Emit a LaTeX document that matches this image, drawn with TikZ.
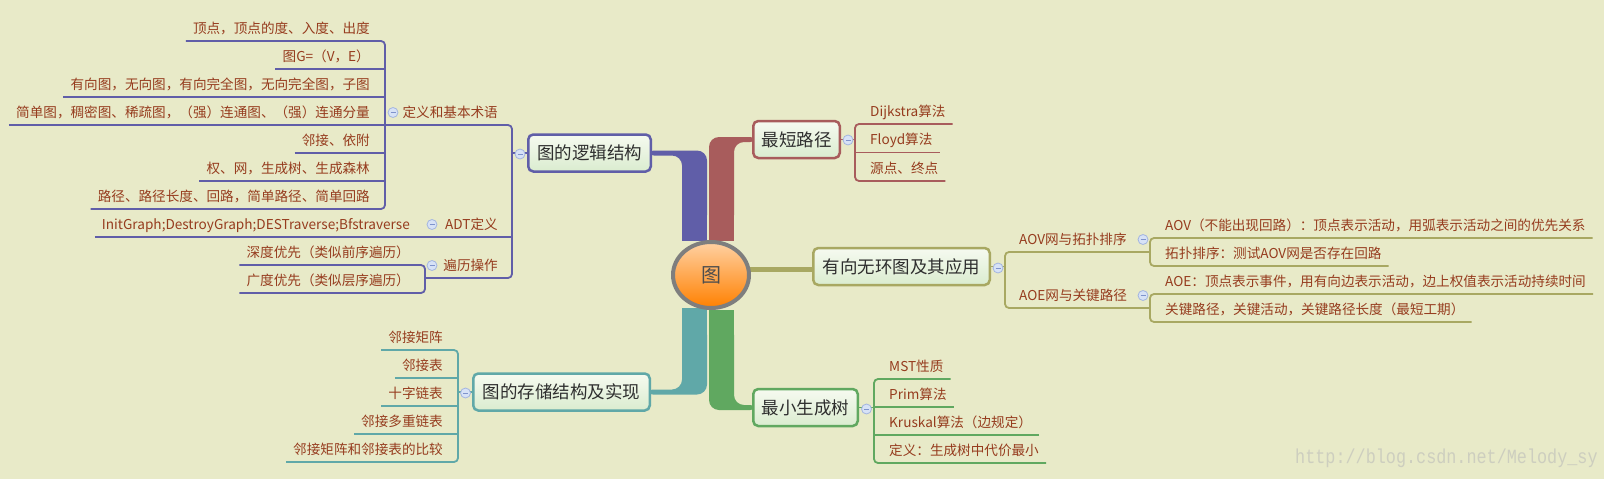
\documentclass[tikz,border=0pt]{standalone}
\usepackage{graphicx}
\usepackage{fontspec}
\setmainfont{Noto Sans CJK SC}
\newfontfamily\markfont{Liberation Mono}
\usetikzlibrary{calc,shapes.geometric}
\pgfdeclarelayer{under}
\pgfsetlayers{under,main}
\definecolor{bg}{HTML}{E8EAC8}
\definecolor{cP}{HTML}{605EA8}
\definecolor{cR}{HTML}{A85C5C}
\definecolor{cO}{HTML}{A8A862}
\definecolor{cT}{HTML}{60A8A8}
\definecolor{cG}{HTML}{60A860}
\definecolor{cTxt}{HTML}{963C1E}
\definecolor{cMain}{HTML}{2E2E2E}
\definecolor{cBoxTop}{HTML}{F6FAF0}
\definecolor{cBoxBot}{HTML}{DAECCF}
\definecolor{cBtnFill}{HTML}{D7E2F6}
\definecolor{cBtnDraw}{HTML}{A3B5E0}
\definecolor{cBtnMinus}{HTML}{7F93CC}
\definecolor{cRootTop}{HTML}{FFD1A3}
\definecolor{cRootBot}{HTML}{FF8000}
\definecolor{cRootRim}{HTML}{7E7E7E}
\definecolor{cMark}{HTML}{CDCEBF}
\begin{document}
\begin{tikzpicture}[x=1pt,y=-1pt,
 leafL/.style={anchor=south east, font=\fontsize{13.6}{16}\selectfont, text=cTxt, inner xsep=7pt, inner ysep=0pt, text height=10pt, text depth=7.5pt},
 leafR/.style={leafL, anchor=south west},
 mainbox/.style={draw=#1, line width=2.5pt, rounded corners=5pt, top color=cBoxTop, bottom color=cBoxBot, font=\fontsize{17.5}{20}\selectfont, text=cMain, inner sep=0pt, minimum height=37pt},
 btn/.style={circle, draw=cBtnDraw, fill=cBtnFill, line width=0.8pt, minimum size=10pt, inner sep=0pt, path picture={\draw[cBtnMinus, line width=1pt] ([xshift=-2.5pt]path picture bounding box.center) -- ([xshift=2.5pt]path picture bounding box.center);}},
 conn/.style={draw=#1, line width=1.8pt, rounded corners=4pt},
]
\useasboundingbox (0,0) rectangle (1604,479);

% root and main topics
\node[ellipse, draw=cRootRim, line width=4pt, top color=cRootTop, bottom color=cRootBot, minimum width=76pt, minimum height=66pt, inner sep=0pt, font=\fontsize{20}{22}\selectfont, text=cMain!85] (root) at (711,275) {图};
\node[mainbox=cP, minimum width=122.5pt] (L1) at (589.5,153) {图的逻辑结构};
\node[mainbox=cR, minimum width=86.5pt] (L2) at (796.5,139.5) {最短路径};
\node[mainbox=cO, minimum width=176.5pt] (L3) at (901.5,266.5) {有向无环图及其应用};
\node[mainbox=cG, minimum width=104.5pt] (L4) at (805.5,407.5) {最小生成树};
\node[mainbox=cT, minimum width=176.5pt] (L5) at (561.5,392) {图的存储结构及实现};

\begin{pgfonlayer}{under}
\fill[bg] (0,0) rectangle (1604,479);
% purple
\fill[cP, rounded corners=10pt] ($(L1.east)+(-8,-2.5)$) -| ($(root.north)+(-4,-15)$) -- ($(root.north)+(-29,-15)$) |- ($(L1.east)+(-8,2.5)$) -- cycle;
\fill[cP] ($(root.north)+(-29,-25)$) rectangle ($(root.north)+(-4,1)$);
% red
\fill[cR, rounded corners=10pt] ($(L2.west)+(8,-2.5)$) -| ($(root.north)+(-2,-15)$) -- ($(root.north)+(23,-15)$) |- ($(L2.west)+(8,2.5)$) -- cycle;
\fill[cR] ($(root.north)+(-2,-25)$) rectangle ($(root.north)+(23,1)$);
% teal
\fill[cT, rounded corners=10pt] ($(L5.east)+(-8,2.5)$) -| ($(root.south)+(-4,15)$) -- ($(root.south)+(-29,15)$) |- ($(L5.east)+(-8,-2.5)$) -- cycle;
\fill[cT] ($(root.south)+(-29,25)$) rectangle ($(root.south)+(-4,-2)$);
% green
\fill[cG, rounded corners=10pt] ($(L4.west)+(8,2.5)$) -| ($(root.south)+(-2,15)$) -- ($(root.south)+(23,15)$) |- ($(L4.west)+(8,-2.5)$) -- cycle;
\fill[cG] ($(root.south)+(-2,25)$) rectangle ($(root.south)+(23,0)$);
% olive
\fill[cO] ($(root.east |- L3.west)+(-5,0.5)$) rectangle ($(L3.west)+(5,5.5)$);
\end{pgfonlayer}

% ---------- purple branch: 图的逻辑结构 ----------
\coordinate (v1) at (512,154);
\coordinate (v11) at (385,125);
\coordinate (v13) at (425,278);
\draw[conn=cP] (L1.west) -- (L1.west -| v1);
\node[leafL, inner xsep=14pt] (s11) at (512,125) {定义和基本术语};
\node[leafL, inner xsep=14pt] (s12) at (512,237) {ADT定义};
\node[leafL, inner xsep=14pt] (s13) at (512,278) {遍历操作};
\draw[conn=cP] (v11) -- (s11.south east) -- (s13.south east) -- (v13);
\node[leafL] (a11) at (377,41) {顶点，顶点的度、入度、出度};
\node[leafL] (a12) at (377,69) {图G=（V，E）};
\node[leafL] (a13) at (377,97) {有向图，无向图，有向完全图，无向完全图，子图};
\node[leafL] (a14) at (377,125) {简单图，稠密图、稀疏图，（强）连通图、（强）连通分量};
\node[leafL] (a15) at (377,153) {邻接、依附};
\node[leafL] (a16) at (377,181) {权、网，生成树、生成森林};
\node[leafL] (a17) at (377,209) {路径、路径长度、回路，简单路径、简单回路};
\draw[conn=cP] (a11.south west) -- (a11.south west -| v11) -- (a17.south west -| v11) -- (a17.south west);
\foreach \n in {a12,a13,a14,a15,a16} \draw[conn=cP] (\n.south west) -- (\n.south west -| v11);
\node[leafL] (a21) at (417,237) {InitGraph;DestroyGraph;DESTraverse;Bfstraverse};
\draw[conn=cP] (a21.south west) -- (s12.south east);
\node[leafL] (a31) at (417,265) {深度优先（类似前序遍历）};
\node[leafL] (a32) at (417,293) {广度优先（类似层序遍历）};
\draw[conn=cP] (a31.south west) -- (a31.south west -| v13) -- (a32.south west -| v13) -- (a32.south west);
\node[btn] (b1) at (520,154) {};
\node[btn] (b11) at (393,112.5) {};
\node[btn] (b12) at (432,224.5) {};
\node[btn] (b13) at (432,265.5) {};

% ---------- red branch: 最短路径 ----------
\coordinate (v2) at (855,140);
\draw[conn=cR] (L2.east) -- (L2.east -| v2);
\node[leafR] (r1) at (863,124) {Dijkstra算法};
\node[leafR] (r2) at (863,152.5) {Floyd算法};
\node[leafR] (r3) at (863,181) {源点、终点};
\draw[conn=cR] (r1.south east) -- (r1.south west -| v2) -- (r3.south west -| v2) -- (r3.south east);
\draw[conn=cR] (r2.south east) -- (r2.south west -| v2);
\node[btn] (b2) at (848,140) {};

% ---------- olive branch: 有向无环图及其应用 ----------
\coordinate (v3) at (1005,268);
\coordinate (v31) at (1150,252);
\coordinate (v32) at (1150,308);
\draw[conn=cO] (L3.east) -- (L3.east -| v3);
\node[leafR, inner xsep=14pt] (s31) at (1005,252) {AOV网与拓扑排序};
\node[leafR, inner xsep=14pt] (s32) at (1005,308) {AOE网与关键路径};
\draw[conn=cO] (v31) -- (s31.south west) -- (s32.south west) -- (v32);
\node[leafR] (o11) at (1158,238) {AOV（不能出现回路）：顶点表示活动，用弧表示活动之间的优先关系};
\node[leafR] (o12) at (1158,266) {拓扑排序：测试AOV网是否存在回路};
\node[leafR] (o21) at (1158,294) {AOE：顶点表示事件，用有向边表示活动，边上权值表示活动持续时间};
\node[leafR] (o22) at (1158,322) {关键路径，关键活动，关键路径长度（最短工期）};
\draw[conn=cO] (o11.south east) -- (o11.south west -| v31) -- (o12.south west -| v31) -- (o12.south east);
\draw[conn=cO] (o21.south east) -- (o21.south west -| v32) -- (o22.south west -| v32) -- (o22.south east);
\node[btn] (b3) at (998,268) {};
\node[btn] (b31) at (1143,239.5) {};
\node[btn] (b32) at (1143,295.5) {};

% ---------- green branch: 最小生成树 ----------
\coordinate (v4) at (874,409);
\draw[conn=cG] (L4.east) -- (L4.east -| v4);
\node[leafR] (g1) at (882,379) {MST性质};
\node[leafR] (g2) at (882,407) {Prim算法};
\node[leafR] (g3) at (882,435) {Kruskal算法（边规定）};
\node[leafR] (g4) at (882,463) {定义：生成树中代价最小};
\draw[conn=cG] (g1.south east) -- (g1.south west -| v4) -- (g4.south west -| v4) -- (g4.south east);
\foreach \n in {g2,g3} \draw[conn=cG] (\n.south east) -- (\n.south west -| v4);
\node[btn] (b4) at (866.5,409) {};

% ---------- teal branch: 图的存储结构及实现 ----------
\coordinate (v5) at (458,393);
\draw[conn=cT] (L5.west) -- (L5.west -| v5);
\node[leafL] (t1) at (450,350) {邻接矩阵};
\node[leafL] (t2) at (450,378) {邻接表};
\node[leafL] (t3) at (450,406) {十字链表};
\node[leafL] (t4) at (450,434) {邻接多重链表};
\node[leafL] (t5) at (450,462) {邻接矩阵和邻接表的比较};
\draw[conn=cT] (t1.south west) -- (t1.south west -| v5) -- (t5.south west -| v5) -- (t5.south west);
\foreach \n in {t2,t3,t4} \draw[conn=cT] (\n.south west) -- (\n.south west -| v5);
\node[btn] (b5) at (465.5,393) {};

% watermark
\node[anchor=west, text=cMark, font=\markfont\fontsize{16.8}{18}\selectfont, inner sep=0pt] (wm) at (1295,458) {\scalebox{1}[1.2]{http://blog.csdn.net/Melody\_sy}};
\end{tikzpicture}
\end{document}
